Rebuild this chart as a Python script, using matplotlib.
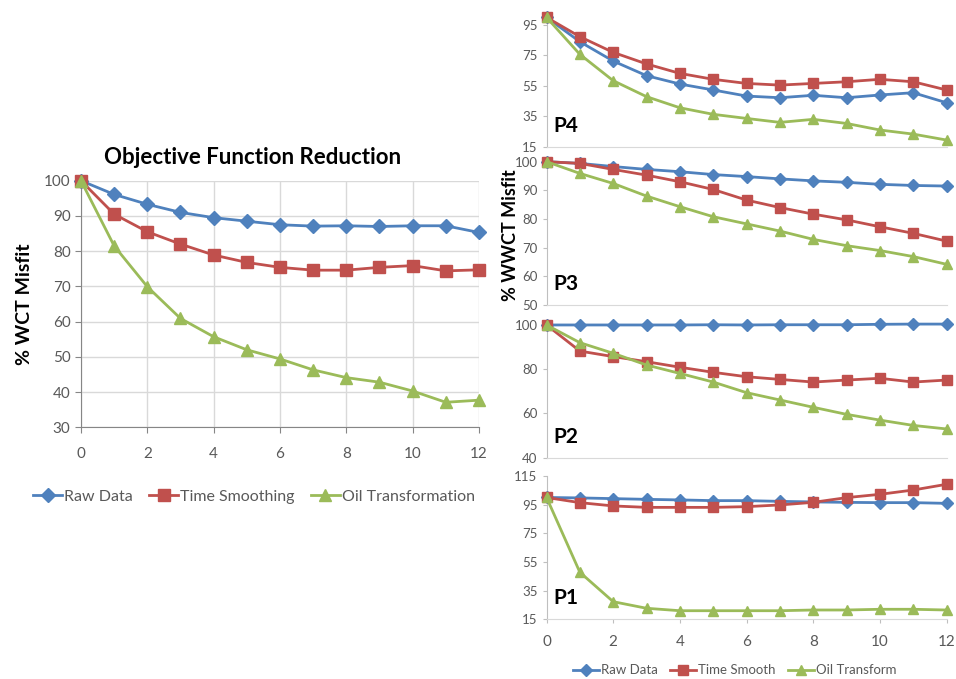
import matplotlib.pyplot as plt
import numpy as np

plt.rcParams['font.family'] = ['Lato', 'DejaVu Sans']

# iteration index shared by every series
iters = np.arange(13)

# overall objective function (% WCT misfit)
obj_raw = [100, 96.1, 93.3, 91.0, 89.5, 88.5, 87.5, 87.1, 87.2, 87.0, 87.2, 87.2, 85.3]
obj_smooth = [100, 90.5, 85.5, 82.0, 78.9, 76.8, 75.4, 74.6, 74.6, 75.4, 75.9, 74.4, 74.7]
obj_oil = [100, 81.5, 69.9, 60.9, 55.7, 52.0, 49.4, 46.3, 44.1, 42.8, 40.3, 37.1, 37.7]

# per-well WWCT misfit
p4_raw = [100, 84.0, 71.3, 61.7, 56.2, 52.3, 48.3, 47.2, 48.8, 47.2, 49.0, 50.5, 43.9]
p4_smooth = [100, 87.3, 77.0, 69.4, 63.2, 59.3, 56.6, 55.5, 56.6, 57.7, 59.3, 57.7, 52.3]
p4_oil = [100, 75.7, 58.4, 47.9, 40.6, 36.3, 33.6, 31.0, 33.0, 30.3, 26.0, 23.3, 19.4]

p3_raw = [100, 99.4, 98.3, 97.3, 96.5, 95.5, 94.8, 94.0, 93.3, 92.8, 92.1, 91.7, 91.5]
p3_smooth = [100, 99.4, 97.3, 95.3, 93.0, 90.3, 86.6, 84.0, 81.7, 79.7, 77.3, 75.0, 72.3]
p3_oil = [100, 95.9, 92.4, 88.0, 84.3, 80.8, 78.3, 75.8, 72.9, 70.7, 69.0, 66.9, 64.2]

p2_raw = [100, 100, 100, 100, 100, 100.1, 100.0, 100.1, 100.1, 100.1, 100.3, 100.4, 100.4]
p2_smooth = [100, 88.2, 85.7, 83.4, 80.9, 78.6, 76.6, 75.4, 74.2, 75.1, 75.9, 74.2, 75.1]
p2_oil = [100, 92.0, 87.2, 81.9, 78.1, 74.2, 69.4, 66.1, 62.8, 59.6, 57.0, 54.6, 53.0]

p1_raw = [100, 99.7, 99.2, 98.7, 98.3, 97.8, 97.8, 97.3, 96.9, 96.6, 96.4, 96.4, 95.9]
p1_smooth = [100, 96.4, 94.1, 93.1, 93.1, 93.1, 93.6, 94.8, 96.6, 99.9, 102.2, 105.2, 109.2]
p1_oil = [100, 47.8, 27.3, 22.7, 21.0, 21.0, 21.0, 21.0, 21.5, 21.5, 22.0, 22.0, 21.5]

blue = '#4F81BD'
red = '#C0504D'
green = '#9BBB59'
tick_col = '#595959'
axis_col = '#868686'

fig = plt.figure(figsize=(9.56, 6.79), dpi=100)


def draw_series(ax, raw, smooth, oil, labels, ms):
    ax.plot(iters, raw, color=blue, lw=2, marker='D', ms=ms * 0.85,
            label=labels[0], clip_on=False, zorder=3)
    ax.plot(iters, smooth, color=red, lw=2, marker='s', ms=ms,
            label=labels[1], clip_on=False, zorder=3)
    ax.plot(iters, oil, color=green, lw=2, marker='^', ms=ms,
            label=labels[2], clip_on=False, zorder=3)


# --- main chart ---
ax = fig.add_axes([0.0847, 0.3707, 0.4163, 0.3632])
draw_series(ax, obj_raw, obj_smooth, obj_oil,
            ['Raw Data', 'Time Smoothing', 'Oil Transformation'], 8)
ax.set_xlim(0, 12)
ax.set_ylim(30, 100)
ax.set_xticks(range(0, 13, 2))
ax.set_yticks(range(30, 101, 10))
ax.grid(True, color='#D9D9D9', lw=1)
ax.set_axisbelow(True)
for s in ['top', 'right']:
    ax.spines[s].set_visible(False)
for s in ['left', 'bottom']:
    ax.spines[s].set_color(axis_col)
ax.tick_params(colors=tick_col, labelsize=11, length=4, color=axis_col)
ax.tick_params(axis='x', pad=10)
ax.set_title('Objective Function Reduction', fontsize=16, fontweight='bold',
             pad=12, x=0.43)
ax.set_ylabel('% WCT Misfit', fontsize=14, fontweight='bold', labelpad=8)
ax.legend(loc='upper center', bbox_to_anchor=(0.435, -0.195), ncol=3,
          frameon=False, fontsize=11.5, handlelength=1.8, handletextpad=0.15,
          columnspacing=1.0, labelcolor=tick_col)

# --- per-well panels ---
panels = [
    ('P4', p4_raw, p4_smooth, p4_oil, [0.7839, 0.1905], (15, 100), range(15, 96, 20)),
    ('P3', p3_raw, p3_smooth, p3_oil, [0.5508, 0.2111], (50, 100), range(50, 101, 10)),
    ('P2', p2_raw, p2_smooth, p2_oil, [0.3259, 0.1955], (40, 100), range(40, 101, 20)),
    ('P1', p1_raw, p1_smooth, p1_oil, [0.0879, 0.2111], (15, 115), range(15, 116, 20)),
]
for name, raw, smooth, oil, (bot, h), ylim, yt in panels:
    pax = fig.add_axes([0.5717, bot, 0.4184, h])
    draw_series(pax, raw, smooth, oil, ['Raw Data', 'Time Smooth', 'Oil Transform'], 7)
    pax.set_xlim(0, 12)
    pax.set_ylim(*ylim)
    pax.set_yticks(list(yt))
    pax.set_xticks(range(0, 13, 2))
    for s in ['top', 'right']:
        pax.spines[s].set_visible(False)
    pax.spines['left'].set_color('#BFBFBF')
    pax.spines['bottom'].set_color('#D9D9D9')
    pax.tick_params(colors=tick_col, labelsize=9.5, length=3, color='#BFBFBF')
    pax.text(0.018, 0.08, name, transform=pax.transAxes, fontsize=15,
             fontweight='bold', va='bottom')
    if name != 'P1':
        pax.tick_params(axis='x', labelbottom=False, length=0)
    else:
        pax.tick_params(axis='x', labelsize=11, pad=8)
        pax.legend(loc='upper center', bbox_to_anchor=(0.47, -0.23), ncol=3,
                   frameon=False, fontsize=9.5, handlelength=2.0,
                   handletextpad=0.15, columnspacing=0.9, labelcolor=tick_col)

fig.text(511 / 956, 1 - 235 / 679, '% WWCT Misfit', rotation=90, fontsize=13,
         fontweight='bold', ha='center', va='center')

fig.savefig('out.png', dpi=100)
